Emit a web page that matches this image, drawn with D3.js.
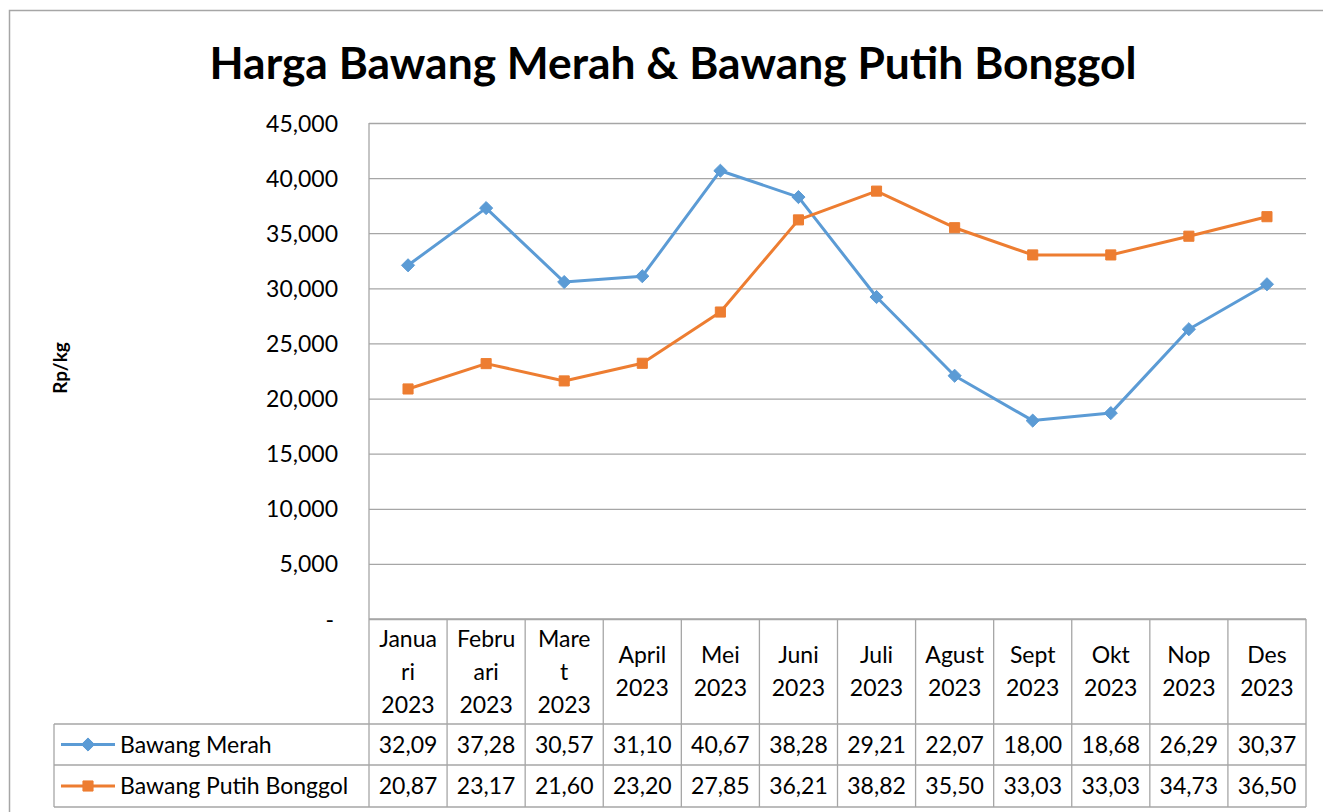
<!DOCTYPE html>
<html>
<head>
<meta charset="utf-8">
<script src="https://cdn.jsdelivr.net/npm/d3@7"></script>
<style>
  html, body { margin: 0; padding: 0; background: #fff; }
  svg { display: block; font-family: Lato, "Open Sans", sans-serif; }
</style>
</head>
<body>
<svg id="chart" width="1323" height="812"></svg>
<script>
// ---- data ----
const categories = ["Januari 2023","Februari 2023","Maret 2023","April 2023","Mei 2023","Juni 2023","Juli 2023","Agust 2023","Sept 2023","Okt 2023","Nop 2023","Des 2023"];
const categoryLines = [["Janua","ri","2023"],["Febru","ari","2023"],["Mare","t","2023"],["April","2023"],["Mei","2023"],["Juni","2023"],["Juli","2023"],["Agust","2023"],["Sept","2023"],["Okt","2023"],["Nop","2023"],["Des","2023"]];
const bawangMerah = [32090, 37280, 30570, 31100, 40670, 38280, 29210, 22070, 18000, 18680, 26290, 30370];
const bawangPutih = [20870, 23170, 21600, 23200, 27850, 36210, 38820, 35500, 33030, 33030, 34730, 36500];
const seriesNames = ["Bawang Merah", "Bawang Putih Bonggol"];
const yTicks = [0, 5000, 10000, 15000, 20000, 25000, 30000, 35000, 40000, 45000];
const titleText = "Harga Bawang Merah & Bawang Putih Bonggol";
const yLabel = "Rp/kg";

// ---- layout ----
const svg = d3.select("#chart");
const L = 369, R = 1306, T = 123, B = 619;
const headerBottom = 724, row1Bottom = 765, row2Bottom = 807;
const legendLeft = 54;
const gridColor = "#a6a6a6";
const colors = ["#5B9BD5", "#ED7D31"];
const fs = 23;

// outer chart border
svg.append("rect").attr("x", 9.5).attr("y", 10.5).attr("width", 2000).attr("height", 2000)
  .attr("fill", "none").attr("stroke", "#a6a6a6").attr("stroke-width", 1.5);

// title
const title = svg.append("text").attr("x", 673).attr("y", 79).attr("text-anchor", "middle")
  .attr("font-weight", "bold").attr("font-size", 40).attr("fill", "#000").text(titleText);
const tw = title.node().getComputedTextLength();
title.attr("font-size", 40 * 927 / tw);

const x = d3.scaleBand().domain(categories).range([L, R]).paddingInner(0).paddingOuter(0);
const y = d3.scaleLinear().domain([0, 45000]).range([B, T]);

// grid lines
const yAxis = d3.axisLeft(y).tickValues(yTicks).tickSize(-(R - L)).tickPadding(31)
  .tickFormat(d => d === 0 ? "-" : d3.format(",")(d));
const gy = svg.append("g").attr("transform", `translate(${L},0)`).call(yAxis);
gy.select(".domain").remove();
gy.selectAll(".tick line").attr("stroke", gridColor).attr("stroke-width", 1.3);
gy.selectAll(".tick text").attr("font-size", fs).attr("fill", "#000")
  .attr("font-family", "Lato, sans-serif").attr("dy", "0.35em");
gy.selectAll(".tick").filter(d => d === 0).select("text").attr("dx", -4);

// y axis vertical line (plot left) through header
svg.append("line").attr("x1", L).attr("x2", L).attr("y1", T).attr("y2", row2Bottom)
  .attr("stroke", gridColor).attr("stroke-width", 1.3);

// y label
svg.append("text").attr("transform", "translate(67,368) rotate(-90)").attr("text-anchor", "middle")
  .attr("font-weight", "bold").attr("font-size", 19).text(yLabel);

// ---- data table ----
const tbl = svg.append("g");
// horizontal lines
[[L, B], [legendLeft, headerBottom], [legendLeft, row1Bottom], [legendLeft, row2Bottom]].forEach(([x0, yy]) => {
  tbl.append("line").attr("x1", x0).attr("x2", R).attr("y1", yy).attr("y2", yy)
    .attr("stroke", gridColor).attr("stroke-width", 1.3);
});
// vertical lines
categories.forEach(c => {
  const xr = x(c) + x.bandwidth();
  tbl.append("line").attr("x1", xr).attr("x2", xr).attr("y1", B).attr("y2", row2Bottom)
    .attr("stroke", gridColor).attr("stroke-width", 1.3);
});
tbl.append("line").attr("x1", legendLeft).attr("x2", legendLeft).attr("y1", headerBottom).attr("y2", row2Bottom)
  .attr("stroke", gridColor).attr("stroke-width", 1.3);

// header labels
const lh = 33;
categories.forEach((c, i) => {
  const lines = categoryLines[i];
  const cx = x(c) + x.bandwidth() / 2;
  const cy = (B + headerBottom) / 2;
  const t = tbl.append("text").attr("text-anchor", "middle").attr("font-size", fs).attr("fill", "#000");
  lines.forEach((ln, k) => {
    t.append("tspan").attr("x", cx).attr("y", cy + (k - (lines.length - 1) / 2) * lh).attr("dy", "0.35em").text(ln);
  });
});

// value rows
const seriesData = [bawangMerah, bawangPutih];
const rowMid = [(headerBottom + row1Bottom) / 2, (row1Bottom + row2Bottom) / 2];
seriesData.forEach((vals, si) => {
  vals.forEach((v, i) => {
    tbl.append("text").attr("x", x(categories[i]) + x.bandwidth() / 2).attr("y", rowMid[si]).attr("dy", "0.35em")
      .attr("text-anchor", "middle").attr("font-size", fs).attr("fill", "#000")
      .text(d3.format(",")(v).slice(0, 5));
  });
  // legend key
  const ly = rowMid[si];
  tbl.append("line").attr("x1", 61).attr("x2", 115).attr("y1", ly).attr("y2", ly)
    .attr("stroke", colors[si]).attr("stroke-width", 3);
  tbl.append("path").attr("transform", `translate(88,${ly})`)
    .attr("d", d3.symbol().type(si === 0 ? d3.symbolDiamond2 : d3.symbolSquare2).size(si === 0 ? 110 : 130)())
    .attr("fill", colors[si]).attr("stroke", colors[si]).attr("stroke-width", 1);
  tbl.append("text").attr("x", 120).attr("y", ly).attr("dy", "0.35em").attr("font-size", fs).attr("fill", "#000")
    .text(seriesNames[si]);
});

// ---- lines ----
const line = d3.line().x((d, i) => x(categories[i]) + x.bandwidth() / 2).y(d => y(d));
seriesData.forEach((vals, si) => {
  svg.append("path").datum(vals).attr("d", line).attr("fill", "none")
    .attr("stroke", colors[si]).attr("stroke-width", 3).attr("stroke-linejoin", "round");
});
seriesData.forEach((vals, si) => {
  svg.append("g").selectAll("path").data(vals).join("path")
    .attr("transform", (d, i) => `translate(${x(categories[i]) + x.bandwidth() / 2},${y(d)})`)
    .attr("d", d3.symbol().type(si === 0 ? d3.symbolDiamond2 : d3.symbolSquare2).size(si === 0 ? 110 : 130)())
    .attr("fill", colors[si]).attr("stroke", colors[si]).attr("stroke-width", 1);
});
</script>
</body>
</html>
